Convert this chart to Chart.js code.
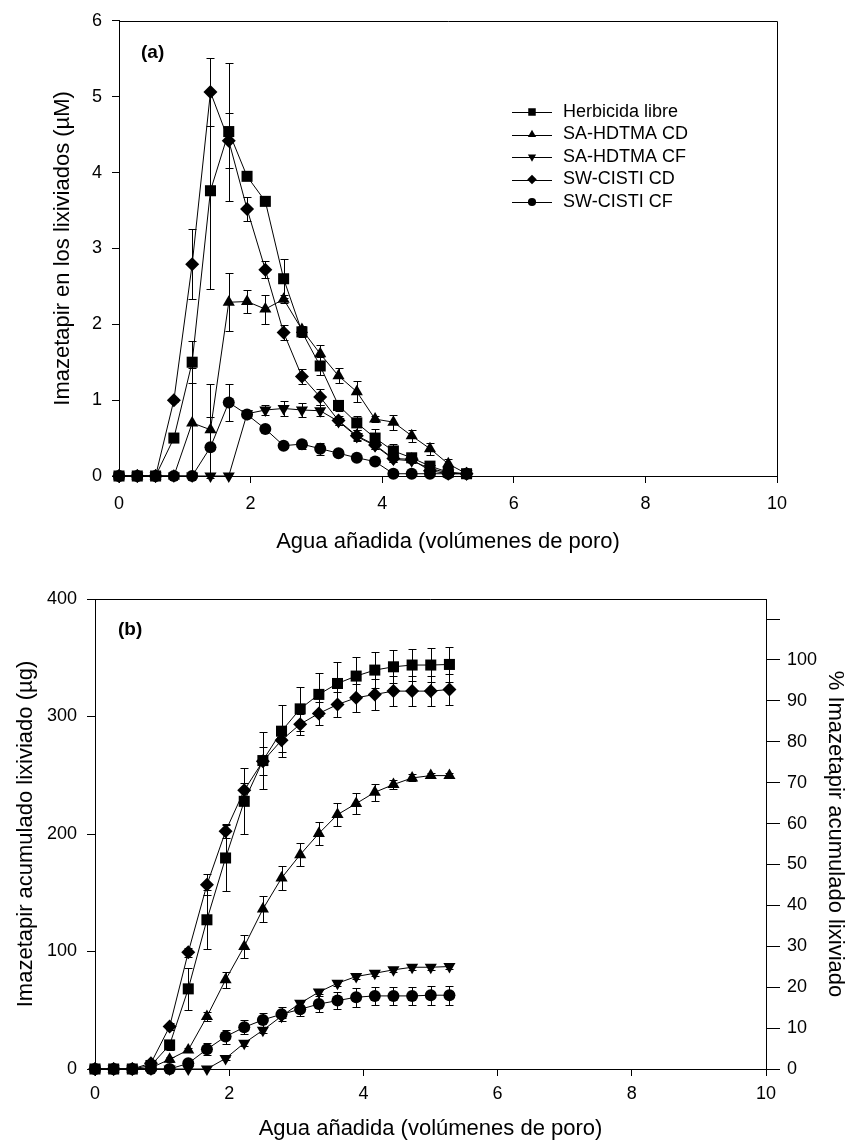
<!DOCTYPE html>
<html>
<head>
<meta charset="utf-8">
<script src="https://cdn.jsdelivr.net/npm/chart.js@4.4.1/dist/chart.umd.min.js"></script>
<style>
    body { margin: 0; background: #fff; }
    .wrap { position: relative; width: 850px; height: 1142px; }
    canvas { position: absolute; left: 0; }
    #chartA { top: 0; }
    #chartB { top: 560px; }
</style>
</head>
<body>
<div class="wrap">
    <canvas id="chartA" width="850" height="560"></canvas>
    <canvas id="chartB" width="850" height="582"></canvas>
</div>
<script>
// Water added (pore volumes) - same for every series
const waterVolumes = [0, 0.278, 0.556, 0.834, 1.112, 1.39, 1.668, 1.946, 2.224, 2.502, 2.78, 3.058, 3.336, 3.614, 3.892, 4.17, 4.448, 4.726, 5.004, 5.282];

const seriesNames = ['Herbicida libre', 'SA-HDTMA CD', 'SA-HDTMA CF', 'SW-CISTI CD', 'SW-CISTI CF'];

// (a) Imazetapir concentration in leachates (µM) and error
const libreConc   = [0, 0, 0, 0.50, 1.50, 3.76, 4.54, 3.95, 3.62, 2.60, 1.90, 1.45, 0.93, 0.70, 0.50, 0.33, 0.24, 0.13, 0.05, 0.03];
const libreErr    = [0, 0, 0, 0.05, 0.28, 1.30, 0.91, 0.05, 0.05, 0.26, 0.07, 0.12, 0.07, 0.09, 0.12, 0.09, 0.06, 0.05, 0.03, 0];
const saCdConc    = [0, 0, 0, 0, 0.70, 0.61, 2.29, 2.30, 2.20, 2.33, 1.93, 1.61, 1.32, 1.11, 0.75, 0.71, 0.53, 0.36, 0.16, 0.03];
const saCdErr     = [0, 0, 0, 0, 0.72, 0.60, 0.38, 0.15, 0.19, 0.05, 0.05, 0.12, 0.10, 0.14, 0.04, 0.10, 0.08, 0.08, 0.07, 0];
const saCfConc    = [0, 0, 0, 0, 0, 0, 0, 0.82, 0.87, 0.89, 0.87, 0.86, 0.72, 0.52, 0.40, 0.22, 0.20, 0.10, 0.04, 0.03];
const saCfErr     = [0, 0, 0, 0, 0, 0, 0, 0.05, 0.06, 0.10, 0.09, 0.07, 0.05, 0.05, 0.05, 0.04, 0.03, 0.02, 0.02, 0];
const swCdConc    = [0, 0, 0, 1.00, 2.79, 5.06, 4.42, 3.52, 2.72, 1.89, 1.31, 1.04, 0.73, 0.53, 0.41, 0.23, 0.22, 0.07, 0.03, 0.03];
const swCdErr     = [0, 0, 0, 0.03, 0.46, 0.45, 0.36, 0.16, 0.11, 0.10, 0.10, 0.11, 0.06, 0.07, 0.05, 0.04, 0.04, 0.03, 0.02, 0];
const swCfConc    = [0, 0, 0, 0, 0, 0.38, 0.97, 0.81, 0.62, 0.40, 0.42, 0.36, 0.30, 0.24, 0.19, 0.03, 0.03, 0.03, 0.03, 0.03];
const swCfErr     = [0, 0, 0, 0, 0, 0.40, 0.24, 0.03, 0.03, 0.03, 0.06, 0.08, 0.03, 0.03, 0.03, 0.02, 0.02, 0.02, 0.02, 0];

// (b) Cumulative imazetapir leached (µg) and error
const libreAcc    = [0, 0, 0, 3, 20.5, 68.2, 127, 179.6, 227.8, 262.5, 287.5, 306.5, 318.8, 328.1, 334.4, 339.5, 342.3, 343.8, 343.8, 344.3];
const libreAccErr = [0, 0, 0, 1, 4, 18, 25, 28, 28, 24, 22, 19, 18, 18, 16.5, 15, 14, 14, 14.5, 15];
const saCdAcc     = [0, 0, 0, 1, 8.2, 16.2, 44.6, 75.9, 104.3, 136.1, 162.5, 182.4, 200.5, 216.5, 225.9, 235.5, 242.1, 247.7, 249.7, 249.7];
const saCdAccErr  = [0, 0, 0, 0, 2, 2, 4, 7, 10, 11, 10, 10, 10, 10, 9, 7, 4, 3, 2, 2];
const saCfAcc     = [0, 0, 0, 0, 0, 0, 0, 9, 22, 33, 45, 56, 65.5, 73, 78.7, 81.5, 84.4, 86.6, 86.6, 87.2];
const saCfAccErr  = [0, 0, 0, 0, 0, 0, 0, 1, 2, 2, 2, 2, 2, 2, 2, 2, 2, 2, 2, 2];
const swCdAcc     = [0, 0, 0, 5, 36.1, 99.4, 156.8, 202.3, 237.2, 261.9, 279.8, 293.5, 302.6, 310.2, 315.9, 318.8, 321.6, 321.6, 321.6, 323];
const swCdAccErr  = [0, 0, 0, 1, 3, 4, 9, 6, 6, 12, 10, 9, 10, 11, 12, 13, 13, 13, 13, 13];
const swCfAcc     = [0, 0, 0, 0, 0, 4.8, 16.8, 27.6, 35.5, 41.8, 46.6, 50.8, 55.3, 58.2, 61.1, 62.2, 62.2, 62.2, 62.8, 62.8];
const swCfAccErr  = [0, 0, 0, 0, 0, 2, 5, 6, 6, 6, 6, 6, 7, 7, 8, 8, 8, 8, 8, 8];

// Axis ticks
const xTicks = [0, 2, 4, 6, 8, 10];
const concTicks = [0, 1, 2, 3, 4, 5, 6];
const accTicks = [0, 100, 200, 300, 400];
const pctTicks = [0, 10, 20, 30, 40, 50, 60, 70, 80, 90, 100, 110];
const PCT_AXIS_MAX = 114.9; // 400 µg on the right-hand % scale

// Marker look per series
const markerStyles = ['rect', 'triangle', 'triangle', 'rectRot', 'circle'];
const markerRotations = [0, 0, 180, 0, 0];
const markerRadius = [7.8, 7, 7, 7, 6];

Chart.defaults.font.family = "'Liberation Sans', Arial, sans-serif";
Chart.defaults.color = '#000';

function buildDatasets(valueLists, errorLists) {
    return valueLists.map((values, s) => ({
        label: seriesNames[s],
        data: waterVolumes.map((v, i) => ({ x: v, y: values[i] })),
        errors: errorLists[s],
        borderColor: '#000',
        backgroundColor: '#000',
        borderWidth: 1,
        pointStyle: markerStyles[s],
        pointRotation: markerRotations[s],
        pointRadius: markerRadius[s],
        pointBorderWidth: 0,
        pointBackgroundColor: '#000',
        tension: 0,
        fill: false,
        clip: false,
        order: 5 - s // later series drawn on top
    }));
}

// Simple marker drawing for the legend
function drawMarker(ctx, style, rotation, x, y, r) {
    ctx.beginPath();
    if (style === 'circle') {
        ctx.arc(x, y, r, 0, Math.PI * 2);
    } else if (style === 'rect') {
        const s = r * Math.SQRT1_2;
        ctx.rect(x - s, y - s, 2 * s, 2 * s);
    } else if (style === 'rectRot') {
        ctx.moveTo(x, y - r);
        ctx.lineTo(x + r, y);
        ctx.lineTo(x, y + r);
        ctx.lineTo(x - r, y);
        ctx.closePath();
    } else {
        const d = rotation === 180 ? -1 : 1;
        ctx.moveTo(x, y - d * r);
        ctx.lineTo(x + r * 0.866, y + d * r * 0.5);
        ctx.lineTo(x - r * 0.866, y + d * r * 0.5);
        ctx.closePath();
    }
    ctx.fill();
}

// Vertical error bars with caps
const errorBarsPlugin = {
    id: 'errorBars',
    beforeDatasetsDraw(chart) {
        const ctx = chart.ctx;
        const xs = chart.scales.x, ys = chart.scales.y;
        ctx.save();
        ctx.strokeStyle = '#000';
        ctx.lineWidth = 1;
        chart.data.datasets.forEach(ds => {
            if (!ds.errors) return;
            ds.data.forEach((p, i) => {
                const e = ds.errors[i];
                if (!e) return;
                const px = Math.round(xs.getPixelForValue(p.x)) + 0.5;
                const top = Math.round(ys.getPixelForValue(p.y + e)) + 0.5;
                const bot = Math.round(ys.getPixelForValue(p.y - e)) + 0.5;
                ctx.beginPath();
                ctx.moveTo(px, top); ctx.lineTo(px, bot);
                ctx.moveTo(px - 4, top); ctx.lineTo(px + 4, top);
                ctx.moveTo(px - 4, bot); ctx.lineTo(px + 4, bot);
                ctx.stroke();
            });
        });
        ctx.restore();
    }
};

// Top and right frame lines
const framePlugin = {
    id: 'frame',
    beforeDatasetsDraw(chart) {
        const { ctx, chartArea: a } = chart;
        ctx.save();
        ctx.strokeStyle = '#000';
        ctx.lineWidth = 1;
        ctx.beginPath();
        ctx.moveTo(a.left, Math.round(a.top) + 0.5);
        ctx.lineTo(Math.round(a.right) + 0.5, Math.round(a.top) + 0.5);
        ctx.lineTo(Math.round(a.right) + 0.5, a.bottom);
        ctx.stroke();
        ctx.restore();
    }
};

// Legend: line with marker in the middle, then the label
const lineLegendPlugin = {
    id: 'lineLegend',
    afterDraw(chart, args, opts) {
        const ctx = chart.ctx;
        ctx.save();
        ctx.font = `${opts.fontSize}px 'Liberation Sans', Arial, sans-serif`;
        ctx.textBaseline = 'middle';
        ctx.fillStyle = '#000';
        ctx.strokeStyle = '#000';
        ctx.lineWidth = 1;
        seriesNames.forEach((name, s) => {
            const y = opts.y + s * opts.step;
            ctx.beginPath();
            ctx.moveTo(opts.x, Math.round(y) + 0.5);
            ctx.lineTo(opts.x + opts.lineLen, Math.round(y) + 0.5);
            ctx.stroke();
            drawMarker(ctx, markerStyles[s], markerRotations[s], opts.x + opts.lineLen / 2, y, markerRadius[s] * opts.markerScale);
            ctx.fillText(name, opts.textX, y);
        });
        ctx.restore();
    }
};

// Panel label like "(a)"
const panelLabelPlugin = {
    id: 'panelLabel',
    afterDraw(chart, args, opts) {
        const ctx = chart.ctx;
        ctx.save();
        ctx.font = "bold 19px 'Liberation Sans', Arial, sans-serif";
        ctx.textBaseline = 'middle';
        ctx.fillStyle = '#000';
        ctx.fillText(opts.text, opts.x, opts.y);
        ctx.restore();
    }
};

const axisGrid = (len) => ({ drawOnChartArea: false, drawTicks: true, tickLength: len, color: '#000', lineWidth: 1 });
const axisBorder = { display: true, color: '#000', width: 1 };
const tickFont = { size: 18 };
const titleFont = { size: 22 };

const fixedTicks = (list) => (scale) => { scale.ticks = list.map(v => ({ value: v })); };

// Chart (a)
new Chart(document.getElementById('chartA'), {
    type: 'line',
    data: { datasets: buildDatasets([libreConc, saCdConc, saCfConc, swCdConc, swCfConc], [libreErr, saCdErr, saCfErr, swCdErr, swCfErr]) },
    plugins: [errorBarsPlugin, framePlugin, lineLegendPlugin, panelLabelPlugin],
    options: {
        responsive: false,
        animation: false,
        devicePixelRatio: 1,
        layout: { padding: { top: 15, right: 73, left: 0, bottom: 0 } },
        plugins: {
            legend: { display: false },
            tooltip: { enabled: false },
            lineLegend: { x: 512, y: 112, step: 22.5, lineLen: 40, textX: 563, fontSize: 18, markerScale: 0.68 },
            panelLabel: { text: '(a)', x: 141, y: 53 }
        },
        scales: {
            x: {
                type: 'linear', min: 0, max: 10,
                afterBuildTicks: fixedTicks(xTicks),
                afterFit: s => { s.height = 84; },
                ticks: { font: tickFont, padding: 10, color: '#000' },
                grid: axisGrid(7), border: axisBorder,
                title: { display: true, text: 'Agua añadida (volúmenes de poro)', font: titleFont, color: '#000', padding: { top: 4, bottom: 5 } }
            },
            y: {
                type: 'linear', min: 0, max: 6,
                afterBuildTicks: fixedTicks(concTicks),
                afterFit: s => { s.width = 119; },
                ticks: { font: tickFont, padding: 10, color: '#000' },
                grid: axisGrid(7), border: axisBorder,
                title: { display: true, text: 'Imazetapir en los lixiviados (µM)', font: titleFont, color: '#000', padding: { top: 50, bottom: 0 } }
            }
        }
    }
});

// Chart (b)
new Chart(document.getElementById('chartB'), {
    type: 'line',
    data: { datasets: buildDatasets([libreAcc, saCdAcc, saCfAcc, swCdAcc, swCfAcc], [libreAccErr, saCdAccErr, saCfAccErr, swCdAccErr, swCfAccErr]) },
    plugins: [errorBarsPlugin, framePlugin, lineLegendPlugin, panelLabelPlugin],
    options: {
        responsive: false,
        animation: false,
        devicePixelRatio: 1,
        layout: { padding: { top: 39, right: 0, left: 0, bottom: 0 } },
        plugins: {
            legend: { display: false },
            tooltip: { enabled: false },
            lineLegend: { x: 547, y: 646, step: 23.3, lineLen: 42, textX: 603, fontSize: 18, markerScale: 0.97 },
            panelLabel: { text: '(b)', x: 118, y: 70 }
        },
        scales: {
            x: {
                type: 'linear', min: 0, max: 10,
                afterBuildTicks: fixedTicks(xTicks),
                afterFit: s => { s.height = 73; },
                ticks: { font: tickFont, padding: 7, color: '#000' },
                grid: axisGrid(7), border: axisBorder,
                title: { display: true, text: 'Agua añadida (volúmenes de poro)', font: titleFont, color: '#000', padding: { top: 0, bottom: 0 } }
            },
            y: {
                type: 'linear', position: 'left', min: 0, max: 400,
                afterBuildTicks: fixedTicks(accTicks),
                afterFit: s => { s.width = 95; },
                ticks: { font: tickFont, padding: 10, color: '#000' },
                grid: axisGrid(8), border: axisBorder,
                title: { display: true, text: 'Imazetapir acumulado lixiviado (µg)', font: titleFont, color: '#000', padding: { top: 13, bottom: 0 } }
            },
            y2: {
                type: 'linear', position: 'right', min: 0, max: PCT_AXIS_MAX,
                afterBuildTicks: fixedTicks(pctTicks),
                afterFit: s => { s.width = 84; },
                ticks: { font: tickFont, padding: 7, color: '#000', callback: v => (v > 100 ? '' : v) },
                grid: axisGrid(14), border: axisBorder,
                title: { display: true, text: '% Imazetapir acumulado lixiviado', font: titleFont, color: '#000', padding: { top: 2, bottom: 0 } }
            }
        }
    }
});
</script>
</body>
</html>
